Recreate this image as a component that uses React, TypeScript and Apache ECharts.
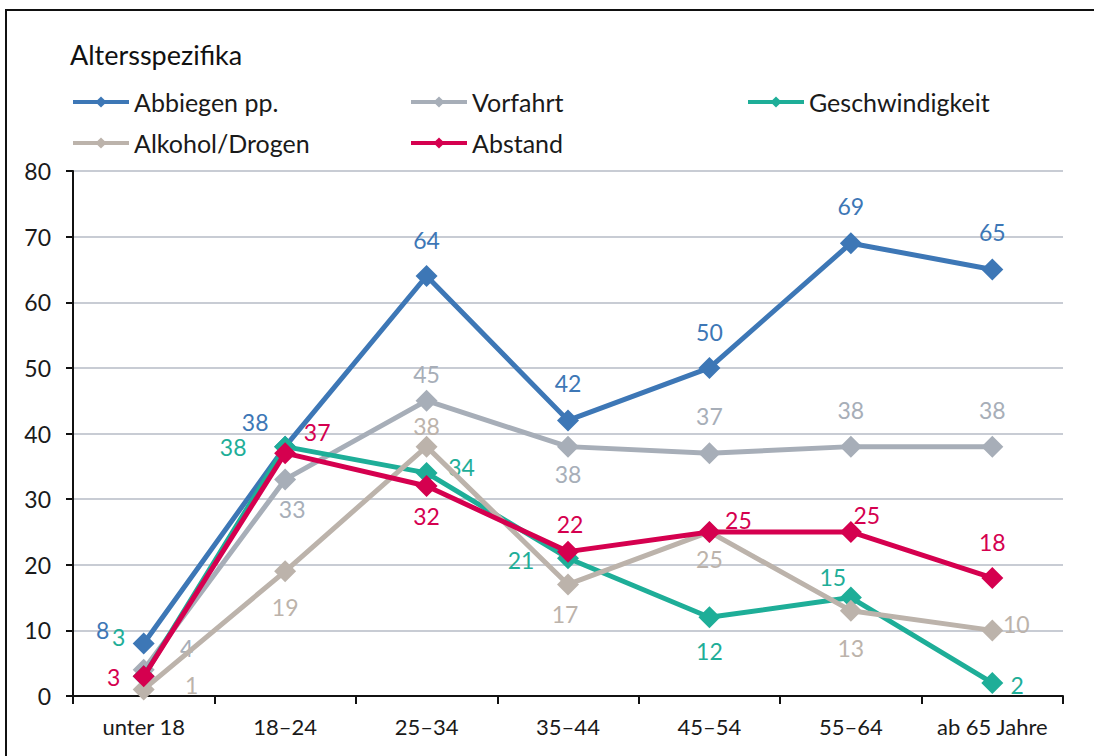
import React, { useEffect, useRef } from 'react';
import * as echarts from 'echarts';

const titleText = 'Altersspezifika';
const categories = ['unter 18', '18–24', '25–34', '35–44', '45–54', '55–64', 'ab 65 Jahre'];
const seriesNames = ['Abbiegen pp.', 'Vorfahrt', 'Geschwindigkeit', 'Alkohol/Drogen', 'Abstand'];
const abbiegen = [8, 38, 64, 42, 50, 69, 65];
const vorfahrt = [4, 33, 45, 38, 37, 38, 38];
const geschwindigkeit = [3, 38, 34, 21, 12, 15, 2];
const alkohol = [1, 19, 38, 17, 25, 13, 10];
const abstand = [3, 37, 32, 22, 25, 25, 18];
const yTicks = { min: 0, max: 80, interval: 10 };

// label placement (style only): offset of label centre from the marker centre
const abbiegenLabelOffsets = [[-41, -14], [-30, -25], [0, -36], [0, -37], [0, -36], [0, -37], [0, -37]];
const vorfahrtLabelOffsets = [[43, -22], [7, 30], [0, -27], [0, 27], [0, -37], [0, -37], [0, -37]];
const geschwLabelOffsets = [[-25, -39], [-52, 0], [35, -6], [-47, 2], [0, 34], [-18, -21], [25, 2]];
const alkoholLabelOffsets = [[48, -4], [0, 36], [0, -21], [-3, 30], [0, 27], [0, 37], [24, -6]];
const abstandLabelOffsets = [[-30, 1], [32, -21], [0, 30], [2, -28], [29, -12], [16, -17], [0, -36]];

const colors = ['#3D77B6', '#A7AEB8', '#1EAE98', '#BCB3AB', '#D5004F'];
const FONT = 'Lato, "Noto Sans", sans-serif';

export default function App() {
  const ref = useRef<HTMLDivElement>(null);
  useEffect(() => {
    if (!ref.current) return;
    const chart = echarts.init(ref.current, undefined, { renderer: 'svg' });
    const values = [abbiegen, vorfahrt, geschwindigkeit, alkohol, abstand];
    const offsets = [abbiegenLabelOffsets, vorfahrtLabelOffsets, geschwLabelOffsets, alkoholLabelOffsets, abstandLabelOffsets];
    const series = seriesNames.map((name, s) => ({
      type: 'line',
      name,
      data: values[s].map((v, i) => ({ value: v, label: { offset: offsets[s][i] } })),
      symbol: 'diamond',
      symbolSize: 22,
      showAllSymbol: true,
      lineStyle: { width: 5, color: colors[s] },
      itemStyle: { color: colors[s] },
      label: {
        show: true,
        position: 'inside',
        color: colors[s],
        fontSize: 23,
        fontFamily: FONT,
      },
      emphasis: { disabled: true },
      z: 2 + s,
    }));
    const legendCommon = {
      orient: 'vertical',
      top: 88,
      padding: 0,
      itemWidth: 56,
      itemHeight: 14,
      itemGap: 13,
      selectedMode: false,
      lineStyle: { width: 4 },
      textStyle: { fontSize: 25, fontFamily: FONT, color: '#1a1a1a', lineHeight: 28 },
    };
    chart.setOption({
      animation: false,
      color: colors,
      title: {
        text: titleText,
        left: 65,
        top: 36,
        textStyle: { fontSize: 27, fontWeight: 'normal', color: '#111', fontFamily: FONT },
      },
      legend: [
        { ...legendCommon, left: 71, data: [seriesNames[0], seriesNames[3]] },
        { ...legendCommon, left: 409, data: [seriesNames[1], seriesNames[4]] },
        { ...legendCommon, left: 746, data: [seriesNames[2]] },
      ],
      graphic: [
        {
          type: 'rect',
          shape: { x: 6, y: 10, width: 1200, height: 800 },
          style: { fill: 'none', stroke: '#111', lineWidth: 2 },
          silent: true,
        },
      ],
      grid: { left: 73, right: 31, top: 171, bottom: 60 },
      xAxis: {
        type: 'category',
        data: categories,
        boundaryGap: true,
        axisLine: { lineStyle: { color: '#111', width: 2 } },
        axisTick: { show: true, interval: 0, length: 8, lineStyle: { color: '#111', width: 2 } },
        axisLabel: { interval: 0, fontSize: 22, color: '#1a1a1a', fontFamily: FONT, margin: 19 },
        splitLine: { show: false },
      },
      yAxis: {
        type: 'value',
        min: yTicks.min,
        max: yTicks.max,
        interval: yTicks.interval,
        axisLine: { show: true, lineStyle: { color: '#111', width: 2 } },
        axisTick: { show: true, length: 7, lineStyle: { color: '#111', width: 2 } },
        axisLabel: { fontSize: 23, color: '#1a1a1a', fontFamily: FONT, margin: 22 },
        splitLine: { lineStyle: { color: '#B6BBC6', width: 1.5 } },
      },
      series,
    });
    return () => chart.dispose();
  }, []);
  return <div ref={ref} style={{ position: 'fixed', left: 0, top: 0, width: 1094, height: 756, background: '#fff' }} />;
}
